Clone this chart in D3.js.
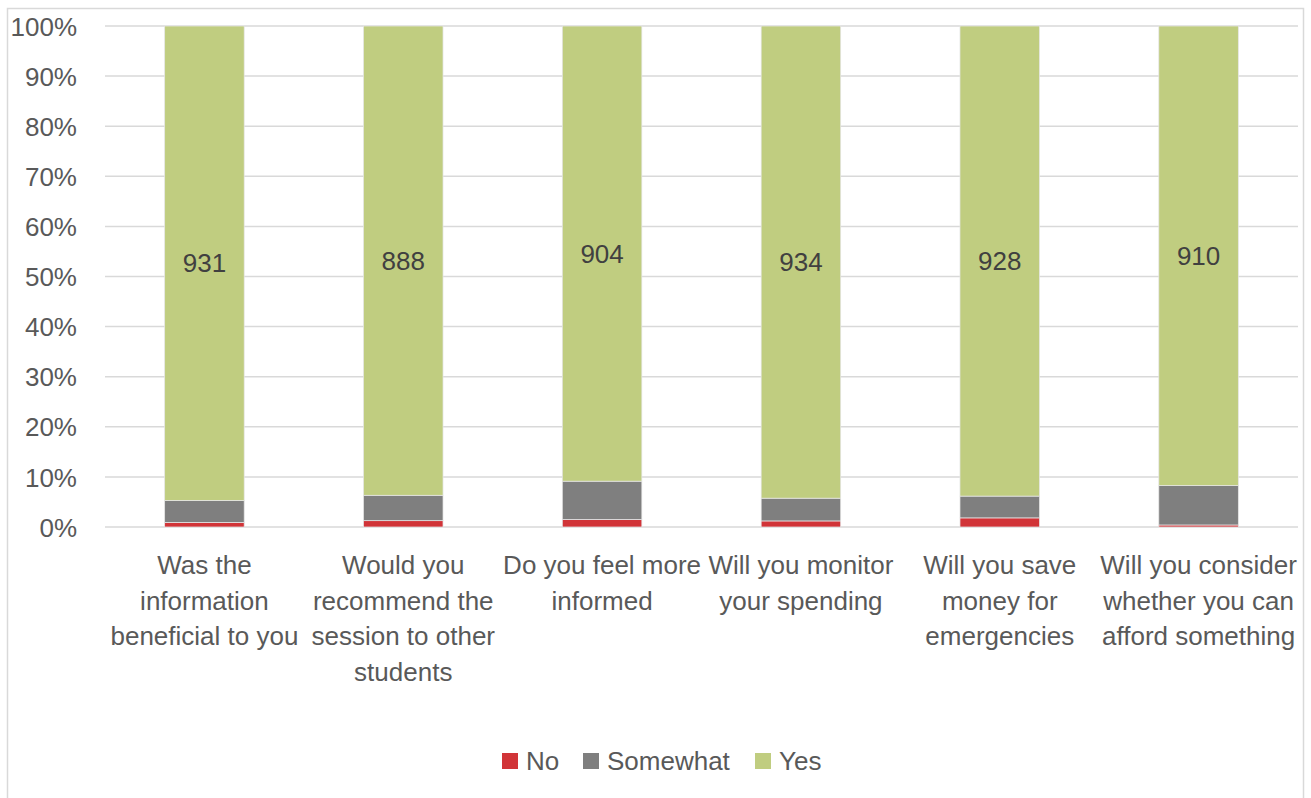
<!DOCTYPE html>
<html>
<head>
<meta charset="utf-8">
<script src="https://cdn.jsdelivr.net/npm/d3@7"></script>
<style>
  html, body { margin: 0; padding: 0; background: #fff; }
  svg { display: block; }
  text { font-family: "Liberation Sans", Arial, sans-serif; }
</style>
</head>
<body>
<svg id="chart" width="1311" height="798"></svg>
<script>
// Survey questions (each entry is the wrapped lines of the axis label)
const categories = [
  ["Was the", "information", "beneficial to you"],
  ["Would you", "recommend the", "session to other", "students"],
  ["Do you feel more", "informed"],
  ["Will you monitor", "your spending"],
  ["Will you save", "money for", "emergencies"],
  ["Will you consider", "whether you can", "afford something"]
];
// Response counts per question
const noCounts       = [9, 12, 15, 12, 18, 4];
const somewhatCounts = [43, 48, 76, 45, 43, 78];
const yesCounts      = [931, 888, 904, 934, 928, 910];

const seriesNames  = ["No", "Somewhat", "Yes"];
const seriesColors = ["#D13438", "#7F7F7F", "#C0CD80"];
const yTicks = [0, 0.1, 0.2, 0.3, 0.4, 0.5, 0.6, 0.7, 0.8, 0.9, 1.0];

const rows = categories.map((c, i) => ({
  key: i,
  lines: c,
  No: noCounts[i],
  Somewhat: somewhatCounts[i],
  Yes: yesCounts[i]
}));

const svg = d3.select("#chart");
const plot = { left: 105, right: 1298, top: 26, bottom: 527 };
const FONT = 26;

// Outer chart border
svg.append("rect")
  .attr("x", 7.5).attr("y", 8.5)
  .attr("width", 1296).attr("height", 792)
  .attr("fill", "#fff").attr("stroke", "#d9d9d9").attr("stroke-width", 1.5);

const x = d3.scaleBand()
  .domain(rows.map(d => d.key))
  .range([plot.left, plot.right])
  .paddingInner(0.6).paddingOuter(0.3);

const y = d3.scaleLinear().domain([0, 1]).range([plot.bottom, plot.top]);

// Gridlines
svg.append("g")
  .selectAll("line")
  .data(yTicks)
  .join("line")
  .attr("x1", plot.left).attr("x2", plot.right)
  .attr("y1", d => y(d)).attr("y2", d => y(d))
  .attr("stroke", "#d9d9d9").attr("stroke-width", 1.5);

// Y axis labels
const yAxis = d3.axisLeft(y).tickValues(yTicks)
  .tickFormat(d3.format(".0%")).tickSize(0).tickPadding(0);
const gy = svg.append("g").attr("transform", `translate(77,0)`).call(yAxis);
gy.select(".domain").remove();
gy.selectAll("text")
  .attr("font-size", FONT).attr("fill", "#595959")
  .attr("font-family", "'Liberation Sans', Arial, sans-serif")
  .attr("dy", "0.35em");

// Stacked 100% bars
const stack = d3.stack()
  .keys(seriesNames)
  .offset(d3.stackOffsetExpand);
const layers = stack(rows);

const layerG = svg.append("g")
  .selectAll("g")
  .data(layers)
  .join("g")
  .attr("fill", (d, i) => seriesColors[i]);

layerG.selectAll("rect")
  .data(d => d)
  .join("rect")
  .attr("x", d => x(d.data.key))
  .attr("width", x.bandwidth())
  .attr("y", d => y(d[1]))
  .attr("height", d => y(d[0]) - y(d[1]))
  .attr("stroke", "#e6e6e6").attr("stroke-width", 0.75);

// Count labels on the "Yes" segment
const yesLayer = layers[2];
svg.append("g")
  .selectAll("text")
  .data(yesLayer)
  .join("text")
  .attr("x", d => x(d.data.key) + x.bandwidth() / 2)
  .attr("y", d => (y(d[0]) + y(d[1])) / 2)
  .attr("dy", "0.35em")
  .attr("text-anchor", "middle")
  .attr("font-size", FONT)
  .attr("fill", "#404040")
  .text(d => d.data.Yes);

// Category labels (wrapped)
const catG = svg.append("g")
  .selectAll("text")
  .data(rows)
  .join("text")
  .attr("text-anchor", "middle")
  .attr("font-size", FONT)
  .attr("fill", "#595959")
  .attr("transform", d => `translate(${x(d.key) + x.bandwidth() / 2},574)`);
catG.selectAll("tspan")
  .data(d => d.lines)
  .join("tspan")
  .attr("x", 0)
  .attr("y", (d, i) => i * 35.7)
  .text(d => d);

// Legend
const legendItems = [
  { name: "No", color: seriesColors[0], x: 502 },
  { name: "Somewhat", color: seriesColors[1], x: 583 },
  { name: "Yes", color: seriesColors[2], x: 755 }
];
const lg = svg.append("g").selectAll("g").data(legendItems).join("g")
  .attr("transform", d => `translate(${d.x},753)`);
lg.append("rect").attr("width", 16).attr("height", 16).attr("fill", d => d.color);
lg.append("text")
  .attr("x", 24).attr("y", 8).attr("dy", "0.35em")
  .attr("font-size", FONT).attr("fill", "#595959")
  .text(d => d.name);
</script>
</body>
</html>
